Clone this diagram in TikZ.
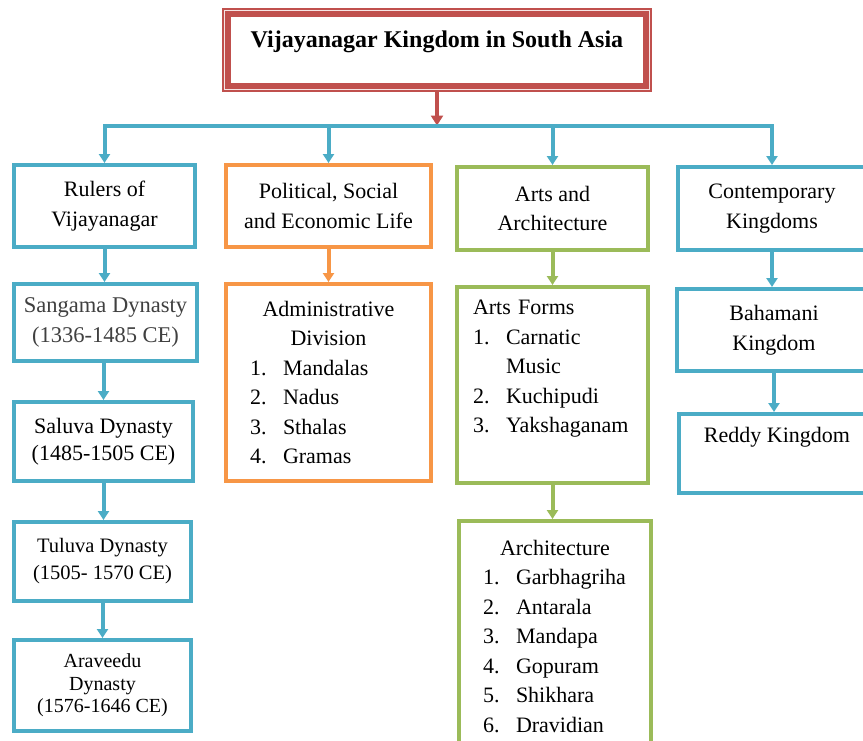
\documentclass[tikz,border=0pt]{standalone}
\usepackage{fontspec}
\setmainfont{Liberation Serif}
\usetikzlibrary{arrows.meta,positioning}
\definecolor{vblue}{HTML}{4BACC6}
\definecolor{vorange}{HTML}{F79646}
\definecolor{vgreen}{HTML}{9BBB59}
\definecolor{vred}{HTML}{C0504D}
\newcommand{\itm}[2]{\makebox[33pt][l]{#1}#2}

\begin{document}
\begin{tikzpicture}[x=1pt,y=-1pt,
  box/.style={draw,line width=4pt,fill=white,inner sep=0pt,align=center,font=\fontsize{22}{29.5}\selectfont},
  bluebox/.style={box,draw=vblue},
  orangebox/.style={box,draw=vorange},
  greenbox/.style={box,draw=vgreen},
  link/.style={line width=4pt,-{Triangle[width=11pt,length=9pt]}},
  bluelink/.style={link,draw=vblue},
  orangelink/.style={link,draw=vorange},
  greenlink/.style={link,draw=vgreen}]
 \useasboundingbox (0,0) rectangle (863,740);

 \node[box,draw=vred,line width=9pt,minimum width=421pt,text height=34.5pt,text depth=40.5pt,
   font=\fontsize{24}{28}\selectfont\bfseries] (title) at (437,50) {Vijayanagar Kingdom in South Asia};
 \draw[white!85!vred,line width=1.3pt] ([xshift=2.2pt,yshift=-2.2pt]title.north west) rectangle ([xshift=-2.2pt,yshift=2.2pt]title.south east);
 \coordinate (bus) at (437,125.5);

 \node[bluebox,minimum width=181pt,minimum height=82pt] (rulers) at (104.5,206) {Rulers of\\Vijayanagar};
 \node[orangebox,minimum width=205pt,minimum height=82pt] (polit) at (328.5,206) {Political, Social\\and Economic Life};
 \node[greenbox,minimum width=191pt,minimum height=83pt] (arts) at (552.5,208.5) {Arts and\\Architecture};
 \node[bluebox,minimum width=188pt,minimum height=83pt] (contemp) at (772,208.5) {Contemporary\\Kingdoms};

 \node[bluebox,minimum width=183pt,minimum height=77pt,text=black!75,
   font=\fontsize{22.5}{30}\selectfont] (sangama) at (105.5,322.5) {Sangama Dynasty\\(1336-1485 CE)};
 \node[bluebox,minimum width=179pt,minimum height=79pt,font=\fontsize{22}{27}\selectfont] (saluva) at (103.5,441.5) {Saluva Dynasty\\(1485-1505 CE)};
 \node[bluebox,minimum width=177pt,minimum height=79pt,font=\fontsize{20.5}{27}\selectfont] (tuluva) at (102.5,561.5) {Tuluva Dynasty\\(1505- 1570 CE)};
 \node[bluebox,minimum width=177pt,minimum height=91pt,font=\fontsize{20}{22.5}\selectfont] (araveedu) at (102.5,685.5) {Araveedu\\Dynasty\\(1576-1646 CE)};

 \node[orangebox,minimum width=205pt,minimum height=197pt] (admin) at (328.5,382.5)
   {Administrative\\Division\\
    \makebox[157pt][l]{\itm{1.}{Mandalas}}\\
    \makebox[157pt][l]{\itm{2.}{Nadus}}\\
    \makebox[157pt][l]{\itm{3.}{Sthalas}}\\
    \makebox[157pt][l]{\itm{4.}{Gramas}}};

 \node[greenbox,align=left,text width=159pt,inner xsep=16pt,minimum height=196pt] (artforms) at (552.5,385)
   {Arts Forms\\
    \itm{1.}{Carnatic}\\
    \hspace*{33pt}Music\\
    \itm{2.}{Kuchipudi}\\
    \itm{3.}{Yakshaganam}\\[8pt]\mbox{}};
 \node[greenbox,minimum width=192pt,minimum height=231pt] (archit) at (555,636.5)
   {Architecture\\
    \makebox[144pt][l]{\itm{1.}{Garbhagriha}}\\
    \makebox[144pt][l]{\itm{2.}{Antarala}}\\
    \makebox[144pt][l]{\itm{3.}{Mandapa}}\\
    \makebox[144pt][l]{\itm{4.}{Gopuram}}\\
    \makebox[144pt][l]{\itm{5.}{Shikhara}}\\
    \makebox[144pt][l]{\itm{6.}{Dravidian}}};

 \node[bluebox,minimum width=194pt,minimum height=82pt] (bahamani) at (774,330) {Bahamani\\Kingdom};
 \node[bluebox,minimum width=196pt,text height=28pt,text depth=51pt] (reddy) at (777,453.5) {Reddy Kingdom};

 \draw[link,draw=vred,-{Triangle[width=12pt,length=10pt]}] (title) -- (bus);
 \draw[bluelink] (bus) -| (rulers.north);
 \draw[bluelink] (bus) -| (contemp.north);
 \draw[bluelink] (polit.north |- bus) -- (polit.north);
 \draw[bluelink] (arts.north |- bus) -- (arts.north);

 \draw[bluelink] (rulers.south) -- (rulers.south |- sangama.north);
 \draw[bluelink] (saluva.north |- sangama.south) -- (saluva.north);
 \draw[bluelink] (saluva.south) -- (saluva.south |- tuluva.north);
 \draw[bluelink] (tuluva) -- (araveedu);
 \draw[orangelink] (polit) -- (admin);
 \draw[greenlink] (arts) -- (artforms);
 \draw[greenlink] (artforms.south) -- (artforms.south |- archit.north);
 \draw[bluelink] (contemp.south) -- (contemp.south |- bahamani.north);
 \draw[bluelink] (bahamani.south) -- (bahamani.south |- reddy.north);
\end{tikzpicture}
\end{document}
